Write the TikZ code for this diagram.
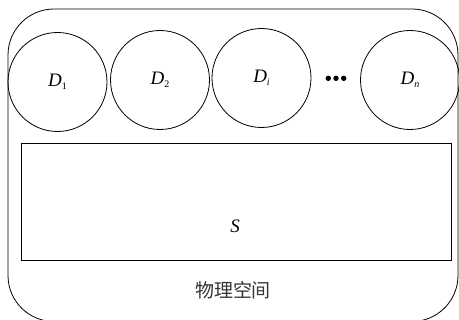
\documentclass[tikz,border=0pt]{standalone}
\usepackage{fontspec}
\setmainfont{Liberation Serif}
\newfontfamily\cjk{Noto Sans CJK SC}[Scale=1]
\newcommand{\dsub}[1]{\raisebox{-3pt}{\fontsize{10}{10}\selectfont #1}}
\begin{document}
\begin{tikzpicture}[x=1pt,y=-1pt,
  line width=0.8pt,
  disk/.style={draw, circle, minimum size=99pt, inner sep=0pt},
  lbl/.style={font=\fontsize{19}{21}\selectfont}]
\useasboundingbox (0,0) rectangle (459,320);
\begin{scope}
\clip (0,0) rectangle (459,320);
\draw[rounded corners=46pt] (8,9) rectangle (458,321.5);
\end{scope}
\node[disk] (d1) at (57.5,82) {};
\node[disk] (d2) at (160,80) {};
\node[disk] (di) at (261.5,78) {};
\node[disk] (dn) at (410,80) {};
\node[lbl] at (d1) {\textit{D}\dsub{1}};
\node[lbl] at (d2) {\textit{D}\dsub{2}};
\node[lbl] at (di) {\textit{D}\dsub{\textit{i}}};
\node[lbl] at (dn) {\textit{D}\dsub{\textit{n}}};
\foreach \x in {328.3,336,343.7} \fill (\x,78.3) circle (2.7pt);
\node[draw, minimum width=430pt, minimum height=117pt, inner sep=0pt, anchor=north west] (s) at (21,143) {};
\node[lbl] (slbl) at (235,226) {\textit{S}};
\node[font=\cjk\fontsize{19}{21}\selectfont, text=black!80] (space) at (233,290) {物理空间};
\end{tikzpicture}
\end{document}
